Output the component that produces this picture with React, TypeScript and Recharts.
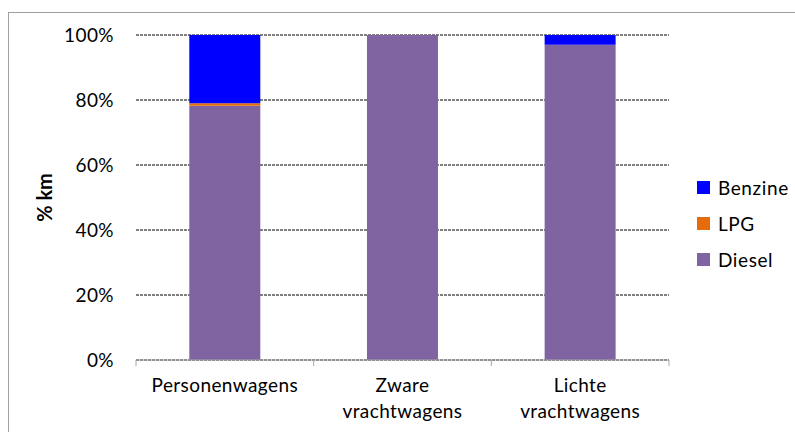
import React from 'react';
import { BarChart, Bar, XAxis, YAxis, CartesianGrid, Legend } from 'recharts';

const categories = ['Personenwagens', 'Zware vrachtwagens', 'Lichte vrachtwagens'];
const diesel = [78.2, 100, 97];
const lpg = [0.8, 0, 0];
const benzine = [21, 0, 3];
const yTicks = [0, 20, 40, 60, 80, 100];

const series = [
  { key: 'Diesel', values: diesel, color: '#8064A2' },
  { key: 'LPG', values: lpg, color: '#E46C0A' },
  { key: 'Benzine', values: benzine, color: '#0000FF' },
];

const data = categories.map((name, i) => {
  const row: Record<string, string | number> = { name };
  series.forEach((s) => {
    row[s.key] = s.values[i];
  });
  return row;
});

const FONT = 'Lato, "Open Sans", sans-serif';

const CategoryTick = (props: any) => {
  const { x, y, payload, index, visibleTicksCount } = props;
  const half = payload.offset || 0;
  const lines = String(payload.value).split(' ');
  return (
    <g>
      <line x1={x - half} x2={x - half} y1={y} y2={y + 6} stroke="#a6a6a6" />
      {index === visibleTicksCount - 1 && (
        <line x1={x + half} x2={x + half} y1={y} y2={y + 6} stroke="#a6a6a6" />
      )}
      <text
        x={x}
        y={y + 32}
        textAnchor="middle"
        fontSize={19}
        letterSpacing={0.4}
        fontFamily={FONT}
        fill="#000"
      >
        {lines.map((l, i) => (
          <tspan key={i} x={x} dy={i === 0 ? 0 : 26}>
            {l}
          </tspan>
        ))}
      </text>
    </g>
  );
};

const LegendContent = () => {
  const items = [...series].reverse();
  return (
    <div style={{ fontFamily: FONT, fontSize: 19, letterSpacing: 0.6, color: '#000' }}>
      {items.map((s) => (
        <div key={s.key} style={{ display: 'flex', alignItems: 'center', height: 36 }}>
          <span style={{ width: 13, height: 13, background: s.color, display: 'inline-block', marginRight: 8 }} />
          <span>{s.key}</span>
        </div>
      ))}
    </div>
  );
};

const App: React.FC = () => {
  return (
    <div style={{ position: 'absolute', left: 0, top: 0, width: 795, height: 432, background: '#fff', overflow: 'hidden' }}>
      <div
        style={{
          position: 'absolute',
          left: 8,
          top: 12,
          width: 800,
          height: 440,
          borderLeft: '1px solid #a0a0a0',
          borderTop: '1px solid #a0a0a0',
        }}
      />
      <BarChart
        width={795}
        height={432}
        data={data}
        margin={{ top: 35, right: 126, bottom: 0, left: 0 }}
        barCategoryGap="30%"
      >
        <CartesianGrid vertical={false} stroke="#000" strokeDasharray="3 1" />
        <XAxis
          dataKey="name"
          height={72}
          axisLine={{ stroke: '#a6a6a6' }}
          tickLine={false}
          tickSize={0}
          tickMargin={0}
          interval={0}
          tick={<CategoryTick />}
        />
        <YAxis
          width={136}
          domain={[0, 100]}
          ticks={yTicks}
          tickFormatter={(v: number) => `${v}%`}
          axisLine={false}
          tickLine={false}
          tickSize={0}
          tickMargin={22}
          tick={{ fontSize: 19, letterSpacing: 0.4, fontFamily: FONT, fill: '#000' }}
          label={{
            value: '% km',
            angle: -90,
            position: 'center',
            dx: -23,
            style: { fontSize: 20, fontWeight: 'bold', fontFamily: FONT, fill: '#000' },
          }}
        />
        <Legend
          layout="vertical"
          verticalAlign="middle"
          align="center"
          content={<LegendContent />}
          wrapperStyle={{ left: 697, top: 169, width: 100 }}
        />
        {series.map((s) => (
          <Bar key={s.key} dataKey={s.key} stackId="a" fill={s.color} isAnimationActive={false} />
        ))}
      </BarChart>
    </div>
  );
};

export default App;
